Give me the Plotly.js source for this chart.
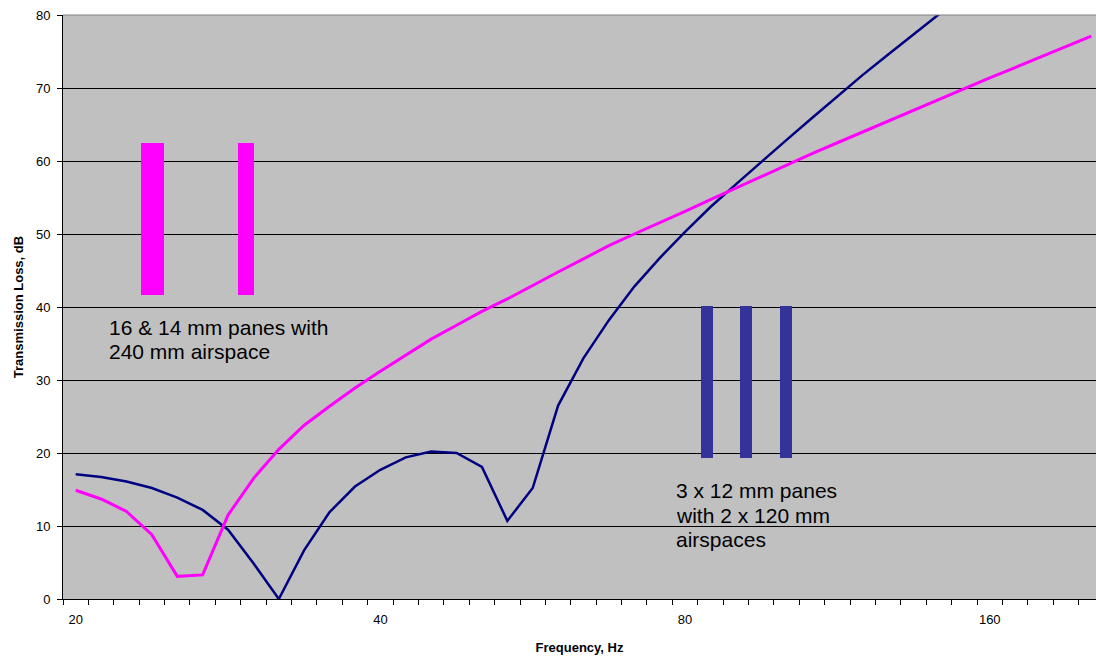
<!DOCTYPE html>
<html>
<head>
<meta charset="utf-8">
<script src="https://cdn.plot.ly/plotly-3.0.1.min.js"></script>
<style>
html,body{margin:0;padding:0;background:#fff;overflow:hidden;}
#chart{width:1096px;height:657px;}
</style>
</head>
<body>
<div id="chart"></div>
<script>
// 1/12-octave frequency categories, Hz
const frequencies = [20, 21.2, 22.4, 23.8, 25.2, 26.7, 28.3, 30, 31.7, 33.6, 35.6, 37.8,
  40, 42.4, 44.9, 47.6, 50.4, 53.4, 56.6, 59.9, 63.5, 67.3, 71.3, 75.5,
  80, 84.8, 89.8, 95.1, 100.8, 106.8, 113.1, 119.9, 127, 134.5, 142.5, 151,
  160, 169.5, 179.6, 190.3, 201.6];

// Triple glazing: 3 x 12 mm panes with 2 x 120 mm airspaces (navy)
const tripleTL = [17.1, 16.7, 16.1, 15.2, 13.9, 12.2, 9.5, 4.9, 0.0, 6.7, 11.9, 15.4,
  17.7, 19.4, 20.2, 20.0, 18.1, 10.7, 15.2, 26.5, 33.0, 38.2, 42.8, 46.7,
  50.3, 53.7, 56.8, 59.9, 62.9, 65.9, 68.9, 71.8, 74.6, 77.4, 80.2, 82.9,
  85.6, 88.2, 90.8, 93.3, 95.8];

// Double glazing: 16 & 14 mm panes with 240 mm airspace (magenta)
const doubleTL = [14.9, 13.7, 12.0, 8.8, 3.1, 3.3, 11.5, 16.5, 20.5, 23.8, 26.4, 28.9,
  31.2, 33.4, 35.6, 37.5, 39.4, 41.1, 43.0, 44.8, 46.6, 48.4, 50.0, 51.5,
  53.1, 54.7, 56.3, 57.9, 59.5, 61.0, 62.5, 64.0, 65.5, 67.0, 68.5, 69.9,
  71.4, 72.8, 74.2, 75.7, 77.1];

const tickLabels = ['20', '40', '80', '160'];
const tickFreqs = [20, 40, 80, 160];

const label1Lines = ['16 &amp; 14 mm panes with', '240 mm airspace'];
const label2Lines = ['3 x 12 mm panes', 'with 2 x 120 mm', 'airspaces'];

const idx = frequencies.map((f, i) => i);
const tickIdx = tickFreqs.map(f => frequencies.indexOf(f));

const FONT = 'Liberation Sans, Arial, sans-serif';

const traces = [
  {x: idx, y: tripleTL, type: 'scatter', mode: 'lines', name: '3 x 12 mm',
   line: {color: '#000080', width: 2.5}, customdata: frequencies, cliponaxis: true},
  {x: idx, y: doubleTL, type: 'scatter', mode: 'lines', name: '16 & 14 mm',
   line: {color: '#FF00FF', width: 3}, customdata: frequencies, cliponaxis: true}
];

// plot area geometry helpers (paper coords from pixels)
const L = 63, T = 15, W = 1033, H = 584;
const px = x => (x - L) / W;
const py = y => 1 - (y - T) / H;

function rect(x0, x1, y0, y1, color) {
  return {type: 'rect', xref: 'paper', yref: 'paper', x0: px(x0), x1: px(x1), y0: py(y1), y1: py(y0),
    fillcolor: color, line: {width: 0}, layer: 'above'};
}
function textLine(text, x, yCenter) {
  return {xref: 'paper', yref: 'paper', x: px(x), y: py(yCenter), xanchor: 'left', yanchor: 'middle',
    align: 'left', showarrow: false, text: text, font: {family: FONT, size: 21, color: '#000'}};
}

const layout = {
  width: 1096, height: 657,
  margin: {l: L, r: 0, t: T, b: 657 - T - H, pad: 0},
  paper_bgcolor: '#ffffff',
  plot_bgcolor: '#C0C0C0',
  showlegend: false,
  font: {family: FONT, color: '#000', size: 13},
  xaxis: {
    range: [-0.5, -0.5 + W / 25.39],
    tickmode: 'array', tickvals: tickIdx, ticktext: tickLabels,
    ticks: '', showgrid: false, zeroline: false,
    showline: true, linecolor: '#000', linewidth: 1,
    tickfont: {family: FONT, size: 13, color: '#000'},
    ticklabelstandoff: 8,
    minor: {tickmode: 'linear', tick0: -0.5, dtick: 1, ticks: 'outside', ticklen: 5,
      tickcolor: '#000', tickwidth: 1, showgrid: false},
    title: {text: '<b>Frequency, Hz</b>', font: {family: FONT, size: 13, color: '#000'}, standoff: 17}
  },
  yaxis: {
    range: [0, 80], dtick: 10, tick0: 0,
    ticks: 'outside', ticklen: 5, tickcolor: '#000', tickwidth: 1,
    showgrid: true, gridcolor: '#000', gridwidth: 1, zeroline: false,
    showline: true, linecolor: '#000', linewidth: 1,
    tickfont: {family: FONT, size: 13, color: '#000'},
    ticklabelstandoff: 4,
    title: {text: '<b>Transmission Loss, dB</b>', font: {family: FONT, size: 13, color: '#000'}, standoff: 9}
  },
  shapes: [
    {type: 'line', xref: 'paper', yref: 'paper', x0: 0, x1: 1, y0: 1, y1: 1, line: {color: '#808080', width: 1}, layer: 'above'},
    rect(141, 164, 143, 295, '#FF00FF'),
    rect(238, 254, 143, 295, '#FF00FF'),
    rect(701, 713, 306, 458, '#333399'),
    rect(740, 752, 306, 458, '#333399'),
    rect(780, 792, 306, 458, '#333399')
  ],
  annotations: [
    textLine(label1Lines[0], 107, 327),
    textLine(label1Lines[1], 107, 351),
    textLine(label2Lines[0], 674, 490),
    textLine(label2Lines[1], 674, 515),
    textLine(label2Lines[2], 674, 539)
  ]
};

Plotly.newPlot('chart', traces, layout, {displayModeBar: false, staticPlot: true});
</script>
</body>
</html>
